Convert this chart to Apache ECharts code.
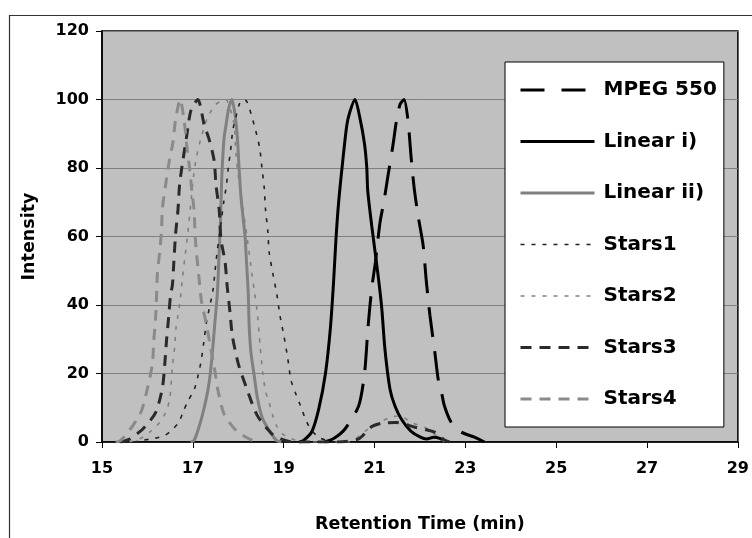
<!DOCTYPE html>
<html>
<head>
<meta charset="utf-8">
<script src="https://cdn.jsdelivr.net/npm/echarts@6/dist/echarts.min.js"></script>
<style>
  html, body { margin: 0; padding: 0; background: #fff; }
  #main { width: 752px; height: 538px; }
</style>
</head>
<body>
<div id="main"></div>
<script>
// 保留时间 (min) / 强度, 每条曲线一组
var mpegTime = [19.9, 20.1, 20.35, 20.65, 20.78, 20.86, 20.94, 21.02, 21.12, 21.21, 21.3, 21.41, 21.48, 21.56, 21.65, 21.74, 21.8, 21.87, 21.96, 22.07, 22.14, 22.22, 22.33, 22.4, 22.47, 22.54, 22.69, 22.91, 23.2, 23.42];
var mpegInt  = [0, 1, 3.8, 10.5, 20, 34, 45, 52.5, 64, 70.5, 78, 87, 93.5, 98.5, 100, 93.5, 84, 74.5, 66, 57.5, 47, 37, 26, 18.5, 14.8, 10.5, 5.7, 2.9, 1.4, 0];

var lin1Time = [19.35, 19.44, 19.62, 19.77, 19.92, 20.03, 20.1, 20.15, 20.21, 20.3, 20.39, 20.46, 20.57, 20.68, 20.78, 20.83, 20.85, 20.94, 21.08, 21.16, 21.23, 21.34, 21.45, 21.6, 21.8, 22.0, 22.15, 22.3, 22.45, 22.58];
var lin1Int  = [0, 0.5, 3, 9.5, 20, 33.5, 47, 59, 70, 82, 92.5, 96.5, 100, 94.5, 87, 80, 73.5, 63, 48.5, 39, 27, 15.5, 10.5, 6.5, 3.2, 1.5, 0.9, 1.4, 1.0, 0];

var lin2Time = [16.95, 17.03, 17.15, 17.25, 17.33, 17.38, 17.43, 17.48, 17.54, 17.58, 17.61, 17.63, 17.65, 17.69, 17.73, 17.79, 17.86, 17.93, 17.98, 18.02, 18.06, 18.11, 18.15, 18.18, 18.22, 18.24, 18.28, 18.35, 18.42, 18.53, 18.68, 18.84, 18.95];
var lin2Int  = [0, 0.5, 5, 10, 15, 19.5, 26, 34, 43.5, 55.5, 65, 74.5, 81, 89, 92.5, 97.5, 100, 95.5, 89, 79.5, 71.5, 65, 60, 53, 43.5, 34, 26, 19.5, 13, 7, 3.4, 0.5, 0];

var star1Time = [15.7, 15.9, 16.16, 16.38, 16.53, 16.69, 16.78, 16.89, 17.03, 17.11, 17.18, 17.24, 17.3, 17.37, 17.44, 17.49, 17.53, 17.58, 17.63, 17.68, 17.74, 17.78, 17.83, 17.88, 17.95, 18.02, 18.1, 18.19, 18.35, 18.47, 18.52, 18.57, 18.6, 18.65, 18.68, 18.76, 18.85, 18.92, 19.01, 19.09, 19.16, 19.26, 19.37, 19.48, 19.59, 19.77, 19.92, 20.1];
var star1Int  = [0, 0.5, 1.1, 1.9, 3.4, 5.7, 8.6, 11.9, 15.3, 19.1, 23.5, 29, 35, 39.5, 44, 50, 55, 60, 65, 70, 75, 80, 85, 91, 95, 98.5, 100, 99.4, 92.6, 86, 80.2, 74.5, 67.9, 61.6, 55.4, 49.3, 43, 36.8, 30.6, 24.4, 18.1, 14.3, 10.6, 6.7, 3.8, 1.4, 0.6, 0];

var star2Time = [15.6, 15.83, 16.05, 16.27, 16.4, 16.49, 16.55, 16.6, 16.63, 16.67, 16.72, 16.77, 16.83, 16.89, 16.96, 17.0, 17.07, 17.18, 17.32, 17.5, 17.72, 17.83, 17.91, 17.95, 18.0, 18.06, 18.2, 18.28, 18.35, 18.42, 18.46, 18.48, 18.54, 18.6, 18.68, 18.75, 18.84, 18.97, 19.26, 19.5, 20.43, 20.86, 21.34, 21.56, 21.81, 22.18, 22.4, 22.55];
var star2Int  = [0, 0.9, 2.9, 5.7, 8.6, 12.4, 22, 27.7, 33.4, 36.8, 41.1, 47.8, 54.4, 61.1, 70.2, 75.9, 82.6, 88.8, 94.6, 98.5, 100, 97, 92.6, 84, 77.8, 72.1, 59.2, 51.1, 44.4, 37.7, 31.5, 28.2, 20.1, 14.8, 11.5, 8.1, 4.8, 2.4, 0.5, 0, 0, 3.8, 7.2, 7.6, 5.7, 3.8, 1.4, 0];

var star3Time = [15.4, 15.5, 15.61, 15.9, 16.18, 16.33, 16.38, 16.42, 16.47, 16.51, 16.55, 16.58, 16.62, 16.67, 16.71, 16.78, 16.87, 16.96, 17.11, 17.25, 17.36, 17.47, 17.51, 17.58, 17.62, 17.71, 17.76, 17.82, 17.87, 18.0, 18.17, 18.42, 18.74, 19.0, 19.2, 20.2, 20.65, 20.94, 21.16, 21.48, 21.89, 22.32, 22.54, 22.65];
var star3Int  = [0, 0.3, 0.9, 3.8, 8.6, 15.8, 22.4, 29.6, 36.8, 43, 45.8, 52.1, 60.7, 67.3, 75.4, 82.1, 89.8, 96.9, 100, 92.6, 88.3, 82.1, 75, 67.8, 59.2, 52.5, 44.9, 37.7, 31, 22.9, 16.2, 7.7, 2.4, 0.6, 0, 0, 0.9, 4.5, 5.5, 5.7, 4.3, 2.9, 0.6, 0];

var star4Time = [15.3, 15.39, 15.48, 15.68, 15.87, 16.01, 16.11, 16.14, 16.18, 16.2, 16.22, 16.27, 16.31, 16.33, 16.4, 16.47, 16.56, 16.62, 16.72, 16.82, 16.87, 16.93, 16.98, 17.03, 17.05, 17.09, 17.14, 17.19, 17.29, 17.38, 17.47, 17.55, 17.69, 17.95, 18.24, 18.4];
var star4Int  = [0, 0.3, 1.4, 4.8, 9.1, 16.2, 22.9, 29.6, 36.3, 42.5, 49.2, 55.4, 61.6, 68.2, 75, 81.2, 87.4, 94.1, 100, 92.6, 86, 79.7, 73.1, 67.3, 60.2, 54, 47.3, 41.1, 34.9, 28.4, 22, 15.3, 8.1, 3.4, 0.9, 0];

var seriesNames = ['MPEG 550', 'Linear i)', 'Linear ii)', 'Stars1', 'Stars2', 'Stars3', 'Stars4'];
var xTicks = [15, 17, 19, 21, 23, 25, 27, 29];
var yTicks = [0, 20, 40, 60, 80, 100, 120];

function pairs(t, v) {
    var out = [];
    for (var i = 0; i < t.length; i++) {
        out.push([t[i], v[i]]);
    }
    return out;
}

var FONT = '"DejaVu Sans", sans-serif';

// 线型: 颜色, 线宽, 虚线
var styles = [
    { color: '#000000', width: 3, type: [30, 14] },
    { color: '#000000', width: 3, type: 'solid' },
    { color: '#808080', width: 3, type: 'solid' },
    { color: '#222222', width: 1.6, type: [4, 7] },
    { color: '#808080', width: 1.6, type: [4, 7] },
    { color: '#2a2a2a', width: 3, type: [11, 8] },
    { color: '#8a8a8a', width: 3, type: [11, 8] }
];
var seriesData = [
    pairs(mpegTime, mpegInt),
    pairs(lin1Time, lin1Int),
    pairs(lin2Time, lin2Int),
    pairs(star1Time, star1Int),
    pairs(star2Time, star2Int),
    pairs(star3Time, star3Int),
    pairs(star4Time, star4Int)
];

var series = [];
for (var i = 0; i < seriesNames.length; i++) {
    series.push({
        name: seriesNames[i],
        type: 'line',
        data: seriesData[i],
        showSymbol: false,
        symbol: 'none',
        smooth: 0.25,
        animation: false,
        lineStyle: styles[i],
        itemStyle: { color: styles[i].color }
    });
}

var legendData = seriesNames.map(function (n, i) {
    var item = { name: n };
    if (i === 0) item.lineStyle = { type: [24, 17] };
    return item;
});

var chart = echarts.init(document.getElementById('main'), null, { renderer: 'canvas' });
chart.setOption({
    animation: false,
    backgroundColor: '#ffffff',
    graphic: [{
        type: 'rect',
        left: 7, top: 13,
        shape: { width: 780, height: 560 },
        style: { fill: 'none', stroke: '#333', lineWidth: 1.2 },
        silent: true
    }],
    grid: {
        left: 102, right: 10, top: 31, bottom: 88,
        show: true,
        backgroundColor: '#c0c0c0',
        borderColor: '#000',
        borderWidth: 1.5
    },
    legend: {
        data: legendData,
        orient: 'vertical',
        left: 505,
        top: 62,
        backgroundColor: '#ffffff',
        borderColor: '#000',
        borderWidth: 1,
        borderRadius: 0,
        padding: [18, 7, 18, 14],
        itemWidth: 74,
        itemHeight: 20,
        itemGap: 31.5,
        selectedMode: false,
        itemStyle: { opacity: 0 },
        lineStyle: { width: 'inherit', type: 'inherit', opacity: 1 },
        textStyle: {
            fontFamily: FONT, fontWeight: 'bold', fontSize: 20, color: '#000',
            padding: [0, 0, 0, 4]
        }
    },
    xAxis: {
        type: 'value',
        min: xTicks[0], max: xTicks[xTicks.length - 1], interval: 2,
        name: 'Retention Time (min)',
        nameLocation: 'middle',
        nameGap: 73,
        nameTextStyle: { fontFamily: FONT, fontWeight: 'bold', fontSize: 17.5, color: '#000' },
        axisLine: { show: true, lineStyle: { color: '#000', width: 1.5 } },
        axisTick: { show: true, inside: false, length: 6, lineStyle: { color: '#000', width: 1 } },
        axisLabel: { margin: 19, fontFamily: FONT, fontWeight: 'bold', fontSize: 16, color: '#000' },
        splitLine: { show: false }
    },
    yAxis: {
        type: 'value',
        min: yTicks[0], max: yTicks[yTicks.length - 1], interval: 20,
        name: 'Intensity',
        nameLocation: 'middle',
        nameGap: 64,
        nameTextStyle: { fontFamily: FONT, fontWeight: 'bold', fontSize: 17.5, color: '#000' },
        axisLine: { show: true, lineStyle: { color: '#000', width: 1.5 } },
        axisTick: { show: true, inside: false, length: 6, lineStyle: { color: '#000', width: 1 } },
        axisLabel: { margin: 13, fontFamily: FONT, fontWeight: 'bold', fontSize: 16, color: '#000' },
        splitLine: { show: true, lineStyle: { color: '#808080', width: 1 } }
    },
    series: series
});
</script>
</body>
</html>
